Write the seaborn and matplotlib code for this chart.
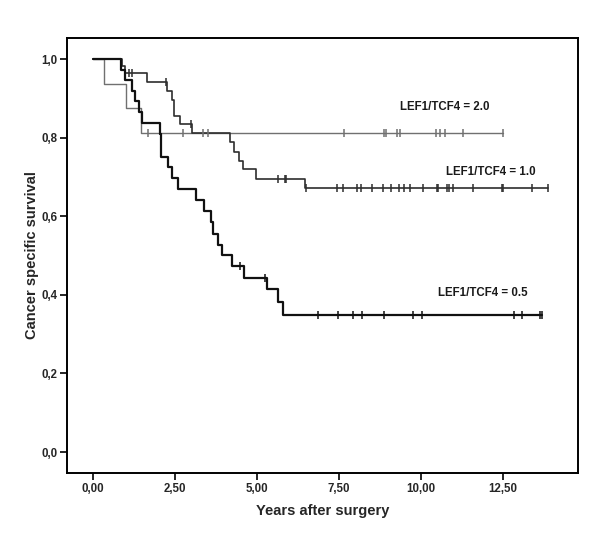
import numpy as np
import pandas as pd
import matplotlib
matplotlib.use("Agg")
import matplotlib.pyplot as plt
import seaborn as sns

# ---- data (Kaplan-Meier style curves) ----
groups = ["LEF1/TCF4 = 2.0", "LEF1/TCF4 = 1.0", "LEF1/TCF4 = 0.5"]

g20_event_t = [0.36, 1.02, 1.47]
g20_level = [0.9375, 0.875, 0.8125]
g20_censor_t = [1.70, 2.75, 3.36, 3.53, 7.66, 8.87, 8.92, 9.26, 9.36,
                10.45, 10.58, 10.73, 11.28, 12.48]

g10_event_t = [0.89, 1.00, 1.67, 2.27, 2.41, 2.48, 2.67, 3.02, 4.19, 4.32,
               4.47, 4.59, 4.98, 6.47]
g10_level = [0.982, 0.964, 0.941, 0.919, 0.897, 0.856, 0.835, 0.8125, 0.790,
             0.764, 0.740, 0.719, 0.695, 0.671]
g10_censor_t = [1.12, 1.20, 2.25, 3.00, 5.64, 5.87, 5.90, 6.50, 7.43, 7.63,
                8.04, 8.17, 8.50, 8.83, 9.10, 9.34, 9.49, 9.66, 10.05, 10.47,
                10.52, 10.78, 10.86, 10.96, 11.59, 12.45, 12.50, 13.39, 13.87]

g05_event_t = [0.86, 0.99, 1.20, 1.30, 1.42, 1.50, 2.06, 2.09, 2.29, 2.43,
               2.59, 3.15, 3.38, 3.62, 3.66, 3.83, 3.93, 4.24, 4.62, 5.30,
               5.66, 5.79]
g05_level = [0.973, 0.946, 0.919, 0.892, 0.865, 0.838, 0.808, 0.752, 0.725,
             0.698, 0.669, 0.642, 0.613, 0.585, 0.556, 0.528, 0.501, 0.473,
             0.444, 0.414, 0.382, 0.350]
g05_censor_t = [4.49, 5.26, 6.87, 7.46, 7.94, 8.19, 8.87, 9.74, 10.04, 12.83,
                13.06, 13.62, 13.67]

x_ticks = [0, 2.5, 5, 7.5, 10, 12.5]
x_ticklabels = ["0,00", "2,50", "5,00", "7,50", "10,00", "12,50"]
y_ticks = [0, 0.2, 0.4, 0.6, 0.8, 1.0]
y_ticklabels = ["0,0", "0,2", "0,4", "0,6", "0,8", "1,0"]

label_pos = {"LEF1/TCF4 = 2.0": (10.73, 0.878),
             "LEF1/TCF4 = 1.0": (12.12, 0.713),
             "LEF1/TCF4 = 0.5": (11.87, 0.404)}

# ---- styling ----
sns.set_style("white")
plt.rcParams["font.family"] = ["Liberation Sans", "DejaVu Sans"]

fig = plt.figure(figsize=(6.0, 5.38), dpi=100)
ax = fig.add_axes([0.112, 0.121, 0.851, 0.808])

series = [
    (groups[0], g20_event_t, g20_level, g20_censor_t, "#707070", 1.0),
    (groups[1], g10_event_t, g10_level, g10_censor_t, "#2e2e2e", 1.2),
    (groups[2], g05_event_t, g05_level, g05_censor_t, "#111111", 1.6),
]

for name, et, lv, ct, col, lw in series:
    end_t = max(ct)
    t = np.array([0.0] + list(et) + [end_t])
    s = np.array([1.0] + list(lv) + [lv[-1]])
    df = pd.DataFrame({"t": t, "s": s})
    sns.lineplot(data=df, x="t", y="s", ax=ax, color=col, linewidth=lw,
                 drawstyle="steps-post", estimator=None, sort=False)
    # censor marks at the curve level
    et_arr = np.array(et)
    lv_arr = np.array([1.0] + list(lv))
    idx = np.searchsorted(et_arr, np.array(ct), side="right")
    cdf = pd.DataFrame({"t": ct, "s": lv_arr[idx]})
    sns.scatterplot(data=cdf, x="t", y="s", ax=ax, marker="|", s=40,
                    color=col, linewidth=1.1, zorder=4)
    x, y = label_pos[name]
    ax.text(x, y, name, ha="center", va="center", fontsize=8.3,
            fontweight="bold", color="#1a1a1a")

ax.set_xlim(-0.77, 14.77)
ax.set_ylim(-0.053, 1.053)
ax.set_xticks(x_ticks)
ax.set_xticklabels(x_ticklabels)
ax.set_yticks(y_ticks)
ax.set_yticklabels(y_ticklabels)
for lab in ax.get_xticklabels() + ax.get_yticklabels():
    lab.set_fontweight("bold")
    lab.set_fontsize(8.3)
ax.tick_params(axis="both", direction="out", length=5, width=1.2,
               color="black", pad=2, bottom=True, left=True)
ax.set_xlabel("Years after surgery", fontsize=10.5, fontweight="bold", labelpad=7)
ax.set_ylabel("Cancer specific survival", fontsize=10.5, fontweight="bold", labelpad=2)
for sp in ax.spines.values():
    sp.set_visible(True)
    sp.set_color("black")
    sp.set_linewidth(1.4)
ax.grid(False)

fig.savefig("out.png", dpi=100, facecolor="white")
